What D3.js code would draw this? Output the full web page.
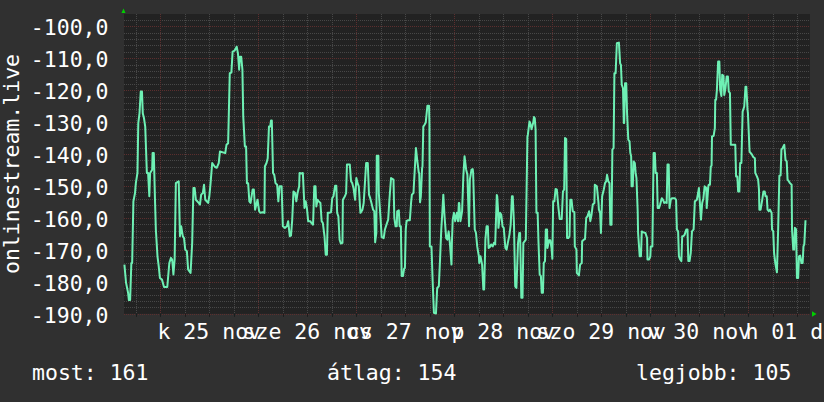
<!DOCTYPE html>
<html><head><meta charset="utf-8">
<script src="https://cdn.jsdelivr.net/npm/d3@7"></script>
<style>html,body{margin:0;padding:0;background:#303030;}svg{display:block}</style>
</head><body>
<script>
// hours since the start of the window (24 Nov 2025 15:07 UTC)
const hours = [0.1,0.5,1.0,1.2,1.5,1.8,2.0,2.3,2.7,2.9,3.3,3.5,3.8,4.1,4.4,4.6,4.9,5.2,5.6,5.9,6.2,6.4,6.9,7.0,7.3,7.6,7.8,8.2,8.5,8.8,9.3,9.8,10.6,11.1,11.5,11.8,12.1,12.4,12.7,13.4,13.7,14.0,14.4,14.7,15.0,15.4,15.7,16.3,16.7,17.0,17.3,17.6,18.3,18.6,18.9,19.3,19.6,19.9,20.6,20.9,21.2,21.6,22.2,22.7,23.2,23.5,24.8,25.1,25.5,25.6,25.9,26.3,26.6,27.1,27.6,27.9,28.2,28.4,28.7,29.0,29.2,29.6,29.9,30.1,30.4,30.7,31.0,31.5,31.8,
32.1,32.7,33.1,33.4,33.9,34.4,34.5,34.9,35.2,35.5,35.8,36.0,36.2,36.5,36.8,37.1,37.5,37.8,38.1,38.6,38.9,39.4,39.9,40.2,40.6,40.9,41.2,41.5,41.9,42.2,42.5,42.9,43.0,43.5,43.8,44.2,44.5,44.8,45.1,45.6,45.9,46.3,46.6,46.9,47.1,47.4,47.7,48.1,48.4,48.7,49.1,49.4,49.7,49.9,50.2,50.7,51.0,51.3,51.7,52.0,52.2,52.5,52.8,53.1,53.5,53.6,54.1,54.4,54.6,55.3,55.6,55.9,56.2,56.6,56.9,57.2,57.5,57.9,58.4,58.7,59.0,59.3,59.7,60.0,60.3,60.6,61.0,61.3,61.5,61.8,61.9,62.3,62.4,62.8,63.1,63.6,63.9,64.4,64.7,65.0,
65.4,66.0,66.2,66.5,66.8,66.9,67.3,67.5,67.8,68.0,68.3,68.6,68.8,69.0,69.2,69.5,70.0,70.3,70.5,70.9,71.0,71.3,71.5,71.8,72.2,72.3,72.5,72.7,73.0,73.1,73.3,73.6,73.9,74.3,74.7,74.8,74.9,75.3,75.6,75.9,76.4,76.7,77.1,77.4,77.7,77.9,78.2,78.5,78.9,79.2,79.5,79.8,80.2,80.3,80.5,80.8,81.1,81.5,81.8,82.0,82.1,82.4,82.8,83.1,83.4,83.8,84.1,84.2,84.5,84.7,85.1,85.4,85.5,85.9,86.2,86.5,86.9,87.0,87.3,87.7,88.0,88.2,88.5,88.8,89.1,89.3,89.6,89.9,90.3,90.6,90.9,91.3,91.4,91.6,91.7,92.1,92.4,92.7,93.0,93.4,93.7,94.0,94.4,94.7,95.0,95.2,95.5,95.8,96.1,96.5,96.8,97.0,97.3,97.6,97.8,98.1,98.4,98.8,98.9,99.3,
99.5,99.8,100.2,100.4,100.6,100.8,101.0,101.3,101.5,101.8,102.1,102.3,102.6,102.8,103.1,103.3,103.6,103.7,104.1,104.4,104.7,104.9,105.1,105.4,105.7,106.0,106.4,106.7,107.2,107.5,107.8,108.0,108.3,108.5,108.8,109.1,109.3,109.6,109.9,110.3,110.4,110.8,110.9,111.4,111.7,112.1,112.2,112.6,112.9,113.2,113.5,113.9,114.2,114.5,114.8,115.2,115.3,115.8,116.2,116.3,116.6,116.8,117.1,117.5,117.8,118.1,118.3,118.6,118.9,119.1,119.4,119.6,119.9,120.1,120.4,120.7,121.2,121.5,121.7,121.9,122.2,122.4,122.5,122.7,123.0,123.2,123.5,123.8,124.0,124.2,124.3,124.6,124.8,125.1,125.3,125.5,125.8,125.9,126.3,126.6,126.8,127.2,127.7,128.1,128.2,128.6,128.9,129.0,129.4,129.7,130.0,130.2,130.5,130.7,131.0,131.3,131.7,132.0,132.3,
132.6,132.9,133.1,133.4,133.6,133.9,134.2,134.9,135.2,135.4,135.7,135.9,136.2,136.5,136.7,137.0,137.3,137.7,138.0,138.2,138.5,138.8,139.1,139.5,139.8,140.3,140.6,140.8,140.9,141.3,141.6,141.9,142.2,142.6,142.7,143.1,143.2,143.5,143.7,143.9,144.0,144.4,144.7,144.8,145.0,145.2,145.5,145.8,146.0,146.3,146.5,146.8,147.0,147.3,147.6,147.9,148.1,148.4,148.6,149.7,149.9,150.2,150.4,150.7,150.9,151.2,151.5,151.9,152.2,152.4,152.7,152.8,153.2,153.5,153.8,154.1,154.5,154.6,155.0,155.3,155.5,155.6,155.9,156.3,156.6,156.9,157.1,157.4,157.6,157.9,158.2,158.6,158.7,159.0,159.2,159.5,159.9,160.2,160.5,160.8,161.0,161.3,161.7,162.0,162.3,162.5,162.8,163.1,163.5,163.6,163.9,164.1,164.3,164.6,164.8,165.1,165.3,165.6,165.9,166.2,166.4,166.6,166.9];
const values = [-174.6,-180.3,-183.4,-185.7,-185.7,-174.1,-174.1,-154.8,-152.2,-149.1,-145.9,-130.3,-127.2,-120.4,-120.4,-127.2,-128.8,-131.4,-145.9,-145.9,-153.2,-145.9,-144.9,-139.7,-139.7,-154.8,-163.6,-172.0,-175.1,-178.8,-179.3,-181.6,-181.6,-174.1,-172.5,-173.0,-177.7,-173.0,-149.1,-148.5,-165.7,-162.6,-165.7,-166.3,-169.9,-170.4,-176.1,-177.2,-167.8,-150.6,-150.6,-154.3,-155.3,-155.8,-152.7,-152.2,-149.6,-154.3,-155.3,-153.2,-149.1,-142.8,-143.9,-144.3,-142.8,-139.2,-139.7,-137.1,-136.6,-131.4,-114.7,-114.5,-107.9,-107.6,-106.4,-108.4,-113.6,-109.5,-109.5,-113.6,-128.2,-137.6,-137.6,-149.1,-149.1,-154.8,-155.3,-151.1,-151.1,
-157.4,-154.3,-157.9,-158.4,-158.2,-158.4,-143.9,-142.8,-141.3,-131.4,-131.4,-129.5,-129.5,-145.9,-146.5,-149.1,-149.6,-154.8,-150.1,-150.1,-162.6,-163.1,-162.6,-161.0,-165.7,-165.5,-160.5,-151.7,-152.2,-154.8,-152.2,-150.1,-145.9,-146.1,-145.9,-156.9,-154.8,-156.9,-161.0,-161.0,-161.6,-162.1,-150.1,-150.1,-156.4,-154.3,-154.8,-155.3,-161.0,-161.6,-165.7,-171.5,-171.5,-158.4,-158.4,-158.2,-153.8,-153.2,-149.9,-149.9,-158.4,-159.5,-166.8,-168.0,-167.8,-154.3,-153.2,-152.2,-143.3,-143.3,-148.5,-149.1,-150.6,-154.3,-147.5,-149.1,-150.1,-158.4,-157.4,-155.3,-149.1,-142.8,-142.8,-152.7,-153.8,-155.3,-157.4,-157.9,-167.6,-164.7,-140.5,-140.5,-152.2,-159.5,-165.9,-166.3,-163.6,-161.6,-160.5,-154.3,
-147.5,-148.0,-160.0,-162.6,-162.6,-157.9,-157.6,-162.6,-162.6,-178.2,-178.2,-175.9,-175.6,-163.6,-161.0,-160.7,-160.7,-155.3,-152.7,-152.2,-149.6,-142.8,-138.1,-141.8,-145.9,-145.9,-155.1,-153.2,-144.4,-143.9,-131.4,-130.8,-130.1,-124.9,-124.9,-130.3,-168.9,-168.9,-180.3,-189.7,-189.9,-181.9,-181.4,-173.0,-163.6,-159.5,-152.7,-159.5,-166.3,-166.8,-164.2,-167.8,-174.6,-167.8,-160.5,-158.4,-161.0,-158.4,-161.0,-155.3,-155.3,-161.0,-157.9,-147.0,-140.7,-144.9,-146.5,-151.1,-162.6,-148.0,-144.9,-144.7,-145.9,-163.6,-164.7,-168.9,-172.0,-174.1,-172.0,-174.6,-182.4,-182.4,-166.8,-162.6,-162.6,-169.4,-169.1,-168.3,-168.9,-167.8,-168.3,-152.8,-153.2,-157.4,-163.1,-158.4,-159.0,-162.6,-163.1,-169.4,-169.9,-167.8,-165.2,-162.1,-153.2,-153.2,-161.6,-181.4,-181.9,-167.8,-164.7,-164.7,-185.0,-185.0,-167.8,-167.3,-166.8,-134.5,-134.0,-129.8,
-130.3,-132.2,-130.3,-128.4,-128.8,-132.4,-158.4,-158.4,-167.3,-177.7,-178.2,-183.4,-183.4,-174.1,-173.5,-163.6,-163.6,-169.4,-167.0,-167.0,-169.4,-172.8,-154.8,-154.8,-150.9,-151.1,-156.9,-160.3,-160.3,-151.7,-151.1,-135.0,-135.3,-166.3,-166.3,-165.7,-154.3,-154.3,-157.9,-158.2,-168.9,-169.9,-177.2,-178.0,-174.6,-174.1,-167.3,-166.8,-166.6,-160.0,-159.5,-157.9,-161.0,-159.0,-155.8,-155.3,-149.6,-150.1,-155.3,-157.4,-158.4,-164.7,-153.2,-151.1,-149.1,-148.5,-146.5,-148.5,-149.1,-162.1,-162.1,-138.6,-138.1,-114.7,-114.7,-105.3,-105.1,-111.6,-112.1,-118.3,-119.4,-130.3,-130.3,-117.8,-117.8,-127.2,-135.5,-136.0,-139.7,-140.7,-150.1,-150.1,-142.3,-142.8,-145.9,-147.5,-157.9,-164.7,-172.0,-172.0,-164.2,-164.5,-164.7,-166.3,-173.0,-173.0,-172.0,-168.9,-168.9,-139.7,-139.7,-145.9,-145.9,-156.9,-156.9,-155.8,-153.8,-154.3,-155.3,
-155.1,-155.3,-143.3,-143.3,-156.9,-154.3,-153.8,-153.8,-154.3,-163.6,-164.2,-172.0,-173.0,-173.5,-165.7,-165.7,-165.2,-163.6,-163.6,-173.5,-173.5,-170.9,-164.2,-163.6,-154.8,-154.3,-152.2,-150.6,-152.7,-160.5,-155.3,-153.8,-150.1,-150.6,-156.9,-150.1,-149.6,-149.6,-143.9,-143.6,-134.5,-134.3,-131.9,-123.0,-123.0,-119.9,-111.0,-111.0,-119.9,-121.8,-115.2,-115.5,-121.5,-119.4,-115.7,-115.7,-120.4,-120.9,-137.1,-137.1,-147.0,-147.0,-151.7,-151.7,-142.8,-142.8,-126.7,-125.1,-118.9,-118.9,-126.1,-127.2,-139.2,-139.7,-140.2,-140.9,-141.3,-145.9,-147.0,-148.0,-151.1,-157.4,-157.4,-154.3,-151.7,-151.7,-153.2,-153.2,-157.4,-157.9,-157.4,-158.4,-163.6,-164.2,-170.9,-174.1,-177.0,-163.6,-146.8,-146.7,-138.6,-138.1,-137.1,-141.8,-142.3,-148.0,-148.5,-149.1,-149.6,-163.6,-169.9,-169.9,-163.1,-163.6,-178.8,-178.8,-172.0,-171.8,-174.1,-174.1,-168.9,-168.3,-160.7];

const yTicks = [-190,-180,-170,-160,-150,-140,-130,-120,-110,-100];
const yTickLabels = ["-190,0","-180,0","-170,0","-160,0","-150,0","-140,0","-130,0","-120,0","-110,0","-100,0"];
const shortDays = ["v","h","k","sze","cs","p","szo"];
const shortMonths = ["jan","febr","márc","ápr","máj","jún","júl","aug","szept","okt","nov","dec"];
const yTitle = "onlinestream.live";
const legendLabels = ["most: 161","átlag: 154","legjobb: 105"];

const W = 824, H = 402;
const L = 124, R = 810, T = 14, B = 313.8;
const FONT = "'DejaVu Sans Mono', monospace";
const FS = "21.5px";
const start = new Date(Date.UTC(2025,10,24,15,7));
const end = new Date(start.getTime() + 168*3600e3);
const t = h => new Date(start.getTime() + h*3600e3);

const x = d3.scaleUtc().domain([start,end]).range([L,R]);
const y = d3.scaleLinear().domain([-190,-96.15]).range([B,T]);

const svg = d3.select("body").append("svg").attr("width",W).attr("height",H);
svg.append("rect").attr("width",W).attr("height",H).attr("fill","#303030");
svg.append("rect").attr("x",L).attr("y",T).attr("width",R-L).attr("height",B-T).attr("fill","#222222");

const px = v => Math.round(v)+0.5;
const MINOR = "#474747", MAJOR = "#5c2e2e";
const grid = svg.append("g");
d3.range(-188,-96,2).filter(v => v%10!==0).forEach(v=>{
  grid.append("line").attr("x1",L).attr("x2",R).attr("y1",px(y(v))).attr("y2",px(y(v)))
    .attr("stroke",MINOR).attr("stroke-dasharray","1,1");
});
x.ticks(d3.utcHour.every(6)).filter(d=>d.getUTCHours()!==0).forEach(d=>{
  grid.append("line").attr("x1",px(x(d))).attr("x2",px(x(d))).attr("y1",T).attr("y2",B)
    .attr("stroke",MINOR).attr("stroke-dasharray","1,1");
});
yTicks.forEach(v=>{
  grid.append("line").attr("x1",L).attr("x2",R).attr("y1",px(y(v))).attr("y2",px(y(v)))
    .attr("stroke",MAJOR).attr("stroke-dasharray","1,1");
});
x.ticks(d3.utcDay.every(1)).forEach(d=>{
  grid.append("line").attr("x1",px(x(d))).attr("x2",px(x(d))).attr("y1",T).attr("y2",B)
    .attr("stroke",MAJOR).attr("stroke-dasharray","1,1");
});

x.ticks(d3.utcHour.every(6)).forEach(d=>{
  svg.append("line").attr("x1",px(x(d))).attr("x2",px(x(d))).attr("y1",B).attr("y2",B+3)
    .attr("stroke","#1c1c1c");
});

const data = hours.map((h,i)=>({t:t(h),v:values[i]}));
svg.append("path").datum(data)
  .attr("d", d3.line().x(d=>x(d.t)).y(d=>y(d.v)))
  .attr("fill","none").attr("stroke","#6ef0b4").attr("stroke-width",2).attr("stroke-linejoin","round");

svg.append("path").attr("d",`M${L-2.5},13 L${L+1.5},13 L${L-0.5},8.5 Z`).attr("fill","#00d000");
svg.append("path").attr("d",`M812,${B-2.5} L812,${B+3} L816.5,${B+0.2} Z`).attr("fill","#00d000");

svg.append("g").selectAll("text").data(yTicks).join("text")
  .attr("x",108.5).attr("y",v=>y(v)+8.7)
  .attr("text-anchor","end").attr("fill","#fff")
  .style("font-family",FONT).style("font-size",FS)
  .text((v,i)=>yTickLabels[i]);

const fmt = d => `${shortDays[d.getUTCDay()]} ${String(d.getUTCDate()).padStart(2,"0")} ${shortMonths[d.getUTCMonth()]}`;
const noons = d3.utcDay.range(d3.utcDay.floor(start), end).map(d=>d3.utcHour.offset(d,12)).filter(d=>d>=start && d<=end);
svg.append("g").selectAll("text").data(noons).join("text")
  .attr("x",d=>x(d)).attr("y",339)
  .attr("text-anchor","middle").attr("fill","#fff")
  .style("font-family",FONT).style("font-size",FS)
  .text(fmt);

svg.append("text").attr("transform","translate(18.5,164) rotate(-90)")
  .attr("text-anchor","middle").attr("fill","#fff")
  .style("font-family",FONT).style("font-size",FS).text(yTitle);

const legX = [32,327,636];
legendLabels.forEach((s,i)=>{
  svg.append("text").attr("x",legX[i]).attr("y",380).attr("fill","#fff")
    .style("font-family",FONT).style("font-size",FS).text(s);
});
</script>
</body></html>
